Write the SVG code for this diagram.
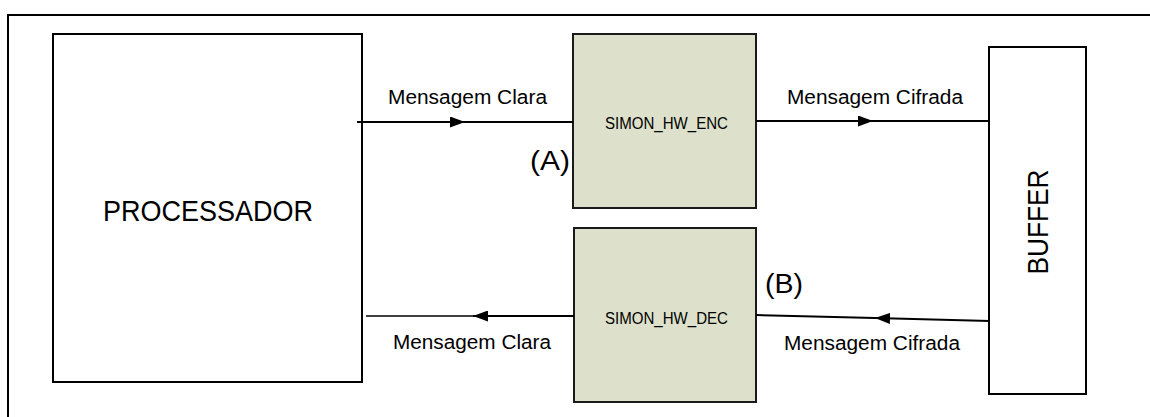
<svg xmlns="http://www.w3.org/2000/svg" width="1150" height="417" viewBox="0 0 1150 417">
<style>
text{font-family:"Liberation Sans",Arial,sans-serif;fill:#000}
.box{fill:#fff;stroke:#000;stroke-width:2}
.hw{fill:#DDE0CA;stroke:#1a1a1a;stroke-width:2}
.ln{stroke:#000;stroke-width:2;fill:none}
.lbl{font-size:20px}
.hwt{font-size:16px}
</style>
<defs>
<marker id="arr" viewBox="0 0 15 11" refX="15" refY="5.5" markerWidth="15" markerHeight="11" markerUnits="userSpaceOnUse" orient="auto">
<path d="M0,0 L15,5.5 L0,11 Z" fill="#000"/>
</marker>
</defs>
<rect width="1150" height="417" fill="#fff"/>
<path d="M8,417 V15 H1150" class="ln"/>
<g id="processador">
<rect class="box" x="53" y="34" width="309" height="348"/>
<text x="208" y="221" font-size="29" text-anchor="middle" textLength="210" lengthAdjust="spacingAndGlyphs">PROCESSADOR</text>
</g>
<g id="simon_hw_enc">
<rect class="hw" x="573" y="34" width="183" height="174"/>
<text class="hwt" x="605" y="129" textLength="123" lengthAdjust="spacingAndGlyphs">SIMON_HW_ENC</text>
</g>
<g id="simon_hw_dec">
<rect class="hw" x="574" y="228" width="182" height="174"/>
<text class="hwt" x="605" y="324" textLength="123" lengthAdjust="spacingAndGlyphs">SIMON_HW_DEC</text>
</g>
<g id="buffer">
<rect class="box" x="989" y="47" width="97" height="347"/>
<text transform="translate(1048,222) rotate(-90)" font-size="29" text-anchor="middle" textLength="105" lengthAdjust="spacingAndGlyphs">BUFFER</text>
</g>
<g id="connectors">
<line class="ln" x1="357" y1="122" x2="465" y2="122" marker-end="url(#arr)"/>
<line class="ln" x1="465" y1="122" x2="573" y2="122"/>
<line class="ln" x1="756" y1="121" x2="873" y2="121" marker-end="url(#arr)"/>
<line class="ln" x1="873" y1="121" x2="989" y2="121"/>
<line class="ln" x1="990" y1="321" x2="875" y2="318" marker-end="url(#arr)"/>
<line class="ln" x1="875" y1="318" x2="756" y2="315"/>
<line class="ln" x1="574" y1="316" x2="473" y2="316" stroke-width="2.5" marker-end="url(#arr)"/>
<line x1="473" y1="316" x2="366" y2="316" stroke="#000" stroke-width="1.5"/>
<text class="lbl" x="388" y="104" textLength="159" lengthAdjust="spacingAndGlyphs">Mensagem Clara</text>
<text class="lbl" x="787" y="104" textLength="176" lengthAdjust="spacingAndGlyphs">Mensagem Cifrada</text>
<text class="lbl" x="393" y="349" textLength="158" lengthAdjust="spacingAndGlyphs">Mensagem Clara</text>
<text class="lbl" x="784" y="350" textLength="176" lengthAdjust="spacingAndGlyphs">Mensagem Cifrada</text>
<text x="530" y="170" font-size="27" textLength="40" lengthAdjust="spacingAndGlyphs">(A)</text>
<text x="765" y="293" font-size="27" textLength="38" lengthAdjust="spacingAndGlyphs">(B)</text>
</g>
</svg>
